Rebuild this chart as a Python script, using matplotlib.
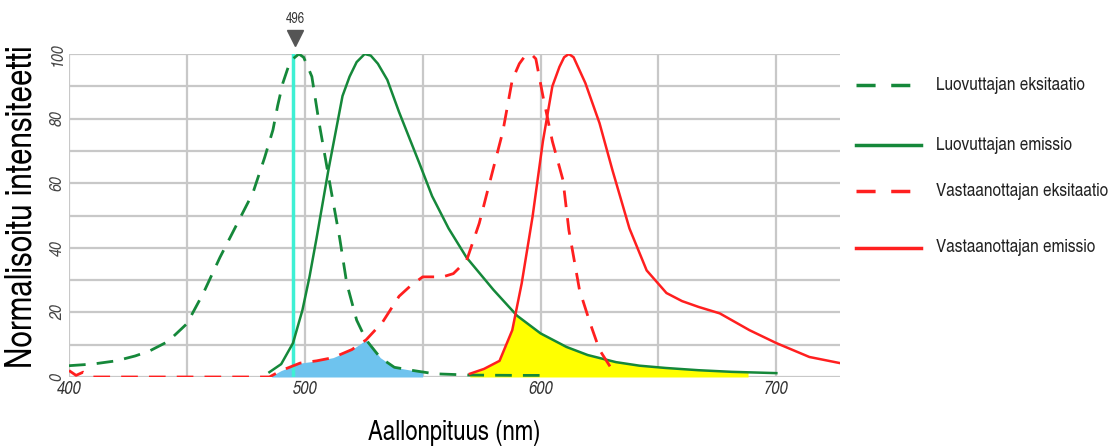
import matplotlib.pyplot as plt
import numpy as np

# Spectra (wavelength nm, normalised intensity %)
don_exc_x = [400, 410, 420, 428, 434, 442, 450, 457, 464, 471, 478, 483, 486.5, 488.5, 490.7, 493,
             495, 497.5, 499.5, 501, 503, 506, 510.6, 514.8, 517.8, 522, 526, 532, 538, 546,
             555, 570, 590, 600]
don_exc_y = [3.5, 4, 5, 6.5, 8, 11, 16.5, 26, 37, 47, 57, 68, 76.5, 84, 91, 96,
             98.5, 100, 99, 96.5, 93, 79, 60, 43, 29, 17.6, 11.5, 6, 3, 2,
             1, 0.6, 0.5, 0.5]

don_em_x = [485, 490, 495, 499, 502, 505, 510, 516, 519, 522, 525.4, 528, 531, 535, 540, 548.7,
            554, 561, 568.6, 580, 590, 600, 611, 620, 632, 642, 653, 667, 681, 700]
don_em_y = [1.5, 4, 10.5, 20.7, 31, 43, 64, 87, 93, 97.5, 100, 99.5, 97, 92, 82, 66,
            56, 46, 37, 27, 19, 13.5, 9.3, 6.8, 4.6, 3.5, 2.8, 2.1, 1.6, 1.2]

acc_exc_x = [400, 403, 406, 410, 485, 490, 498, 505, 512, 520, 526, 533, 540, 544.5, 550,
             558.5, 563, 568.6, 574, 578, 584, 588, 591, 593, 596, 598, 601, 605, 609.5, 612,
             616.5, 621, 625, 631]
acc_exc_y = [2, 0.5, 1.5, 0, 0, 2, 4.3, 5, 6, 8.5, 11.5, 17, 25, 28, 31,
             31, 32, 36, 47.6, 59, 76, 92, 97, 99, 100, 98.5, 87, 73, 61, 45.5,
             27, 16.7, 8.4, 1.5]

acc_em_x = [570, 576, 582.6, 588, 592, 596.6, 601, 605, 608, 610, 612, 614, 616.5, 619, 625,
            630.5, 637.7, 645, 653.4, 660, 667, 676, 688.6, 700, 714, 727]
acc_em_y = [1, 2.5, 5, 14.5, 29, 49.6, 73, 90, 96, 99, 100, 99, 95, 91, 78.6,
            64, 46, 33, 26, 23.5, 21.7, 19.7, 14.5, 10.5, 6.2, 4.3]

labels = ['Luovuttajan eksitaatio', 'Luovuttajan emissio',
          'Vastaanottajan eksitaatio', 'Vastaanottajan emissio']
x_ticks = [400, 500, 600, 700]
y_ticks = [0, 20, 40, 60, 80, 100]
marker_nm = 496

green = '#15883a'
red = '#ff1f1f'
cn = 'TeX Gyre Heros Cn'

fig = plt.figure(figsize=(11.15, 4.46), dpi=100)
ax = fig.add_axes([69 / 1115, 1 - 377 / 446, (840 - 69) / 1115, (377 - 54) / 446])
ax.set_xlim(400, 727)
ax.set_ylim(0, 100)

# overlap areas
xs = np.linspace(486, 550, 300)
blue_top = np.minimum(np.interp(xs, don_exc_x, don_exc_y), np.interp(xs, acc_exc_x, acc_exc_y))
ax.fill_between(xs, 0, blue_top, color='#6ec3ee', lw=0, zorder=2)
xs = np.linspace(570, 688, 400)
yel_top = np.minimum(np.interp(xs, don_em_x, don_em_y), np.interp(xs, acc_em_x, acc_em_y))
ax.fill_between(xs, 0, yel_top, color='#ffff00', lw=0, zorder=2)

ax.plot(don_exc_x, don_exc_y, color=green, lw=2, dashes=(6, 4), zorder=3)
ax.plot(don_em_x, don_em_y, color=green, lw=1.8, zorder=3)
ax.plot(acc_exc_x, acc_exc_y, color=red, lw=2, dashes=(6, 4), zorder=3)
ax.plot(acc_em_x, acc_em_y, color=red, lw=1.8, zorder=3)

ax.axvline(marker_nm - 1, ymin=0, ymax=1, color='#3ef0d4', lw=2.5, zorder=2.5)
ax.plot([marker_nm], [104.8], marker='v', ms=12, color='#555555', clip_on=False)
ax.text(marker_nm, 108.8, str(marker_nm), ha='center', va='bottom', fontsize=10,
        family=cn, color='#333333')

ax.set_xticks(np.arange(400, 701, 50))
ax.set_xticklabels([str(v) if v in x_ticks else '' for v in range(400, 701, 50)],
                   fontsize=13, family=cn, style='italic', color='#333333')
ax.set_yticks(np.arange(0, 101, 10))
ax.set_yticklabels([str(v) if v in y_ticks else '' for v in range(0, 101, 10)],
                   fontsize=12.5, family=cn, style='italic', color='#444444',
                   rotation=90, va='center')
ax.tick_params(length=0, pad=3)
ax.grid(True, color='#c8c8c8', lw=1.6)
ax.set_axisbelow(True)
for s in ax.spines.values():
    s.set_visible(False)

ax.set_ylabel('Normalisoitu intensiteetti', fontsize=26, family=cn)
ax.yaxis.set_label_coords(-0.038, 0.526)
ax.set_xlabel('Aallonpituus (nm)', fontsize=19.5, family=cn, labelpad=16)

# legend drawn by hand on the right
legend_y = [85, 145, 191, 248]
styles = [(green, (5.5, 4.5)), (green, None), (red, (5.5, 4.5)), (red, None)]
for lbl, ly, (c, d) in zip(labels, legend_y, styles):
    yy = 1 - ly / 446
    line = plt.Line2D([856 / 1115, 921 / 1115], [yy, yy], color=c, lw=2.5,
                      transform=fig.transFigure)
    if d:
        line.set_dashes(d)
    fig.add_artist(line)
    fig.text(936 / 1115, yy, lbl, va='center', ha='left', fontsize=13.5,
             family=cn, color='#222222')

fig.savefig('out.png', dpi=100)
